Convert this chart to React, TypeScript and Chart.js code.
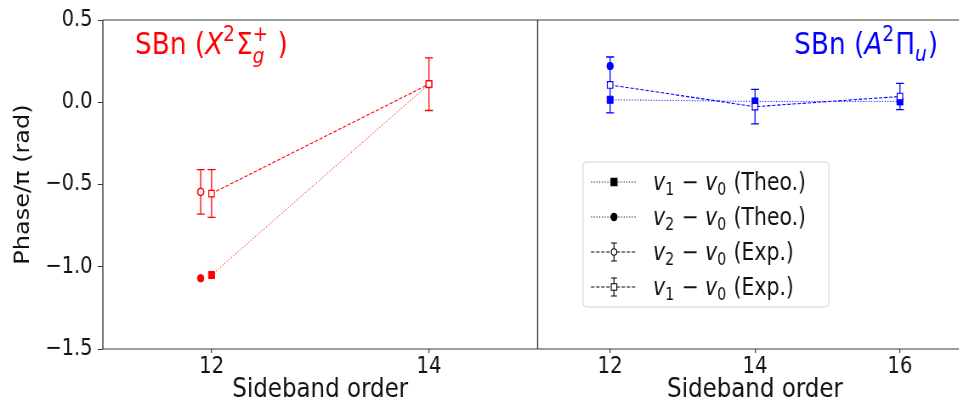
import React, { useEffect, useRef } from "react";
import { Chart, registerables } from "chart.js";

Chart.register(...registerables);

// ---------------- data ----------------
const leftXTicks = [12, 14];
const rightXTicks = [12, 14, 16];
const yTicks = [0.5, 0.0, -0.5, -1.0, -1.5];

// Left panel: SBn (X^2 Sigma_g^+)
const leftTheoV1X = [12, 14];
const leftTheoV1Y = [-1.05, 0.11];
const leftTheoV2X = [11.9];
const leftTheoV2Y = [-1.07];
const leftExpV2X = [11.9];
const leftExpV2Y = [-0.545];
const leftExpV2Err = [0.135];
const leftExpV1X = [12, 14];
const leftExpV1Y = [-0.555, 0.11];
const leftExpV1Err = [0.145, 0.16];

// Right panel: SBn (A^2 Pi_u)
const rightTheoV1X = [12, 14, 16];
const rightTheoV1Y = [0.015, 0.005, 0.005];
const rightTheoV2X = [12];
const rightTheoV2Y = [0.22];
const rightExpV2X: number[] = [];
const rightExpV2Y: number[] = [];
const rightExpV2Err: number[] = [];
const rightExpV1X = [12, 14, 16];
const rightExpV1Y = [0.105, -0.027, 0.035];
const rightExpV1Err = [0.17, 0.105, 0.08];

const legendSub = ["1", "2", "2", "1"];
const legendKind = ["Theo.", "Theo.", "Exp.", "Exp."];

// ---------------- layout ----------------
const FONT = '"DejaVu Sans", sans-serif';
const SQ = 0.85; // horizontal squeeze of the whole figure
const H = 403;
const W = 1150; // virtual canvas width (right panel runs past the visible edge)
const TOP = 20;
const X_AXIS_H = 54;
const Y_AXIS_W = 121;
const TXT = "#111";
const SPINE = "#3a3a3a";

const fnt = (size: number, it?: boolean) => `${it ? "italic " : ""}${size}px ${FONT}`;

type Seg = { t?: string; it?: boolean; sup?: string; sub?: string; subIt?: boolean };

function drawMath(ctx: CanvasRenderingContext2D, segs: Seg[], x: number, y: number, size: number, color: string, align: "left" | "right" = "left") {
  const small = size * 0.7;
  const widths = segs.map((s) => {
    if (s.t !== undefined) {
      ctx.font = fnt(size, s.it);
      return ctx.measureText(s.t).width;
    }
    let w = 0;
    if (s.sup) { ctx.font = fnt(small); w = Math.max(w, ctx.measureText(s.sup).width); }
    if (s.sub) { ctx.font = fnt(small, s.subIt); w = Math.max(w, ctx.measureText(s.sub).width); }
    return w + size * 0.04;
  });
  const total = widths.reduce((a, b) => a + b, 0);
  let cx = align === "right" ? x - total : x;
  ctx.save();
  ctx.fillStyle = color;
  ctx.textAlign = "left";
  ctx.textBaseline = "alphabetic";
  segs.forEach((s, i) => {
    if (s.t !== undefined) {
      ctx.font = fnt(size, s.it);
      ctx.fillText(s.t, cx, y);
    } else {
      if (s.sup) { ctx.font = fnt(small); ctx.fillText(s.sup, cx, y - size * 0.42); }
      if (s.sub) { ctx.font = fnt(small, s.subIt); ctx.fillText(s.sub, cx, y + size * (s.sup ? 0.3 : 0.22)); }
    }
    cx += widths[i];
  });
  ctx.restore();
}

const pts = (xs: number[], ys: number[]) => xs.map((x, i) => ({ x, y: ys[i] }));

function makeDatasets(axis: string, color: string, tv1x: number[], tv1y: number[], tv2x: number[], tv2y: number[], ev2x: number[], ev2y: number[], ev2e: number[], ev1x: number[], ev1y: number[], ev1e: number[]) {
  return [
    {
      xAxisID: axis, data: pts(tv1x, tv1y), showLine: true, borderColor: color, backgroundColor: color, borderWidth: 1,
      borderDash: [1.2, 2], pointStyle: "rect", pointRadius: 5, pointBorderWidth: 1, order: 3,
    },
    {
      xAxisID: axis, data: pts(tv2x, tv2y), showLine: true, borderColor: color, backgroundColor: color, borderWidth: 1,
      borderDash: [1.2, 2], pointStyle: "circle", pointRadius: 3.8, pointBorderWidth: 1, order: 2,
    },
    {
      xAxisID: axis, data: pts(ev2x, ev2y), errors: ev2e, showLine: true, borderColor: color, backgroundColor: "#fff", borderWidth: 1.1,
      borderDash: [4, 2], pointStyle: "circle", pointRadius: 3.6, pointBorderWidth: 1.6, order: 1,
    },
    {
      xAxisID: axis, data: pts(ev1x, ev1y), errors: ev1e, showLine: true, borderColor: color, backgroundColor: "#fff", borderWidth: 1.1,
      borderDash: [4, 2], pointStyle: "rect", pointRadius: 4.6, pointBorderWidth: 1.2, order: 0,
    },
  ];
}

const errorBarPlugin = {
  id: "errbars",
  beforeDatasetDraw(chart: any, args: any) {
    const ds = chart.data.datasets[args.index];
    if (!ds.errors || !ds.errors.length) return;
    const ctx = chart.ctx;
    const ys = chart.scales.y;
    ctx.save();
    ctx.strokeStyle = ds.borderColor;
    ctx.lineWidth = 1.3;
    ctx.setLineDash([]);
    args.meta.data.forEach((p: any, i: number) => {
      const v = ds.data[i].y;
      const e = ds.errors[i];
      const y1 = ys.getPixelForValue(v + e);
      const y2 = ys.getPixelForValue(v - e);
      const cw = 4.7;
      ctx.beginPath();
      ctx.moveTo(p.x, y1); ctx.lineTo(p.x, y2);
      ctx.moveTo(p.x - cw, y1); ctx.lineTo(p.x + cw, y1);
      ctx.moveTo(p.x - cw, y2); ctx.lineTo(p.x + cw, y2);
      ctx.stroke();
    });
    ctx.restore();
  },
};

const framePlugin = {
  id: "frame",
  afterDraw(chart: any) {
    const { ctx, chartArea: a, width } = chart;
    const divider = chart.scales.xl.right;
    ctx.save();
    ctx.strokeStyle = SPINE;
    ctx.setLineDash([]);
    ctx.lineWidth = 1.1;
    ctx.beginPath();
    ctx.moveTo(a.left, a.top); ctx.lineTo(width, a.top);
    ctx.moveTo(a.left, a.bottom); ctx.lineTo(width, a.bottom);
    ctx.stroke();
    ctx.lineWidth = 1.4;
    ctx.beginPath();
    ctx.moveTo(a.left, a.top); ctx.lineTo(a.left, a.bottom);
    ctx.moveTo(divider, a.top); ctx.lineTo(divider, a.bottom);
    ctx.stroke();
    ctx.restore();
  },
};

const decorPlugin = {
  id: "decor",
  afterDraw(chart: any) {
    const ctx: CanvasRenderingContext2D = chart.ctx;
    const vx = (ax: number) => ax / SQ;
    drawMath(ctx, [
      { t: "SBn (" }, { t: "X", it: true }, { sup: "2" }, { t: "Σ" }, { sup: "+", sub: "g", subIt: true }, { t: " )" },
    ], vx(135), 54, 31, "#ff0000", "left");
    drawMath(ctx, [
      { t: "SBn (" }, { t: "A", it: true }, { sup: "2" }, { t: "Π" }, { sub: "u", subIt: true }, { t: ")" },
    ], vx(938), 54, 31, "#0000ff", "right");

    // legend box
    const bx = vx(583), by = 162, bw = vx(829) - vx(583), bh = 145;
    ctx.save();
    ctx.fillStyle = "rgba(255,255,255,0.85)";
    ctx.strokeStyle = "#d0d0d0";
    ctx.lineWidth = 1;
    ctx.beginPath();
    (ctx as any).roundRect ? (ctx as any).roundRect(bx, by, bw, bh, 4) : ctx.rect(bx, by, bw, bh);
    ctx.fill();
    ctx.stroke();
    const rows = [182, 217, 252, 287];
    const lx1 = vx(591), lx2 = vx(637), mx = vx(614);
    rows.forEach((ry, i) => {
      const exp = legendKind[i] === "Exp.";
      const square = i === 0 || i === 3;
      ctx.strokeStyle = "#000";
      ctx.lineWidth = 1;
      ctx.setLineDash(exp ? [4, 2] : [1.2, 2]);
      ctx.beginPath();
      ctx.moveTo(lx1, ry); ctx.lineTo(lx2, ry);
      ctx.stroke();
      ctx.setLineDash([]);
      if (exp) {
        ctx.lineWidth = 1.2;
        ctx.beginPath();
        ctx.moveTo(mx, ry - 9); ctx.lineTo(mx, ry + 9);
        ctx.moveTo(mx - 3.5, ry - 9); ctx.lineTo(mx + 3.5, ry - 9);
        ctx.moveTo(mx - 3.5, ry + 9); ctx.lineTo(mx + 3.5, ry + 9);
        ctx.stroke();
      }
      ctx.fillStyle = exp ? "#fff" : "#000";
      ctx.beginPath();
      if (square) {
        const s = exp ? 3.3 : 3.6;
        ctx.rect(mx - s, ry - s, 2 * s, 2 * s);
      } else {
        ctx.arc(mx, ry, exp ? 3.2 : 3.6, 0, Math.PI * 2);
      }
      ctx.fill();
      ctx.lineWidth = 1.1;
      ctx.stroke();
      drawMath(ctx, [
        { t: "v", it: true }, { sub: legendSub[i] }, { t: " − " }, { t: "v", it: true }, { sub: "0" }, { t: ` (${legendKind[i]})` },
      ], vx(653), ry + 8, 24, TXT, "left");
    });
    ctx.restore();
  },
};

const fmtY = (v: any) => {
  const n = Number(v);
  const s = Math.abs(n).toFixed(1);
  return n < 0 ? "\u2212" + s : s;
};

function xScale(min: number, max: number, ticks: number[]) {
  return {
    type: "linear",
    axis: "x",
    min, max,
    position: "bottom",
    stack: "panels",
    stackWeight: 1,
    afterBuildTicks: (s: any) => { s.ticks = ticks.map((v) => ({ value: v })); },
    afterFit: (s: any) => { s.height = X_AXIS_H; },
    border: { display: false },
    grid: { display: true, drawOnChartArea: false, drawTicks: true, tickLength: 4, color: SPINE, lineWidth: 1.2 },
    ticks: { font: { family: FONT, size: 23 }, color: TXT, padding: 0, maxRotation: 0, autoSkip: false, callback: (v: any) => String(v) },
    title: { display: true, text: "Sideband order", font: { family: FONT, size: 27, lineHeight: 1 }, color: TXT, padding: { top: 0, bottom: 0 } },
  };
}

const yScale = {
  type: "linear",
  min: -1.5, max: 0.5,
  position: "left",
  afterBuildTicks: (s: any) => { s.ticks = yTicks.map((v) => ({ value: v })); },
  afterFit: (s: any) => { s.width = Y_AXIS_W; },
  border: { display: false },
  grid: { display: true, drawOnChartArea: false, drawTicks: true, tickLength: 6, color: SPINE, lineWidth: 1 },
  ticks: { font: { family: FONT, size: 23 }, color: TXT, padding: 6, autoSkip: false, callback: fmtY },
  title: { display: true, text: "Phase/π (rad)", font: { family: FONT, size: 24 }, color: TXT, padding: { top: 13, bottom: 0 } },
};

export default function App() {
  const ref = useRef<HTMLCanvasElement>(null);

  useEffect(() => {
    const chart = new Chart(ref.current as HTMLCanvasElement, {
      type: "scatter",
      data: {
        datasets: [
          ...makeDatasets("xl", "#ff0000", leftTheoV1X, leftTheoV1Y, leftTheoV2X, leftTheoV2Y, leftExpV2X, leftExpV2Y, leftExpV2Err, leftExpV1X, leftExpV1Y, leftExpV1Err),
          ...makeDatasets("xr", "#0000ff", rightTheoV1X, rightTheoV1Y, rightTheoV2X, rightTheoV2Y, rightExpV2X, rightExpV2Y, rightExpV2Err, rightExpV1X, rightExpV1Y, rightExpV1Err),
        ] as any,
      },
      options: {
        animation: false,
        responsive: false,
        maintainAspectRatio: false,
        devicePixelRatio: 1,
        events: [],
        layout: { padding: { top: TOP, left: 0, right: 0, bottom: 0 } },
        plugins: { legend: { display: false }, tooltip: { enabled: false } },
        scales: {
          xl: xScale(11, 15, leftXTicks),
          xr: xScale(11, 17, rightXTicks),
          y: yScale,
        } as any,
      } as any,
      plugins: [errorBarPlugin, framePlugin, decorPlugin],
    });
    return () => chart.destroy();
  }, []);

  return (
    <div style={{ position: "fixed", left: 0, top: 0, width: 959, height: H, overflow: "hidden", background: "#fff" }}>
      <div style={{ position: "absolute", left: 0, top: 0, width: W, height: H, transform: `scaleX(${SQ})`, transformOrigin: "0 0" }}>
        <canvas ref={ref} width={W} height={H} style={{ position: "absolute", left: 0, top: 0, width: W, height: H }} />
      </div>
    </div>
  );
}
